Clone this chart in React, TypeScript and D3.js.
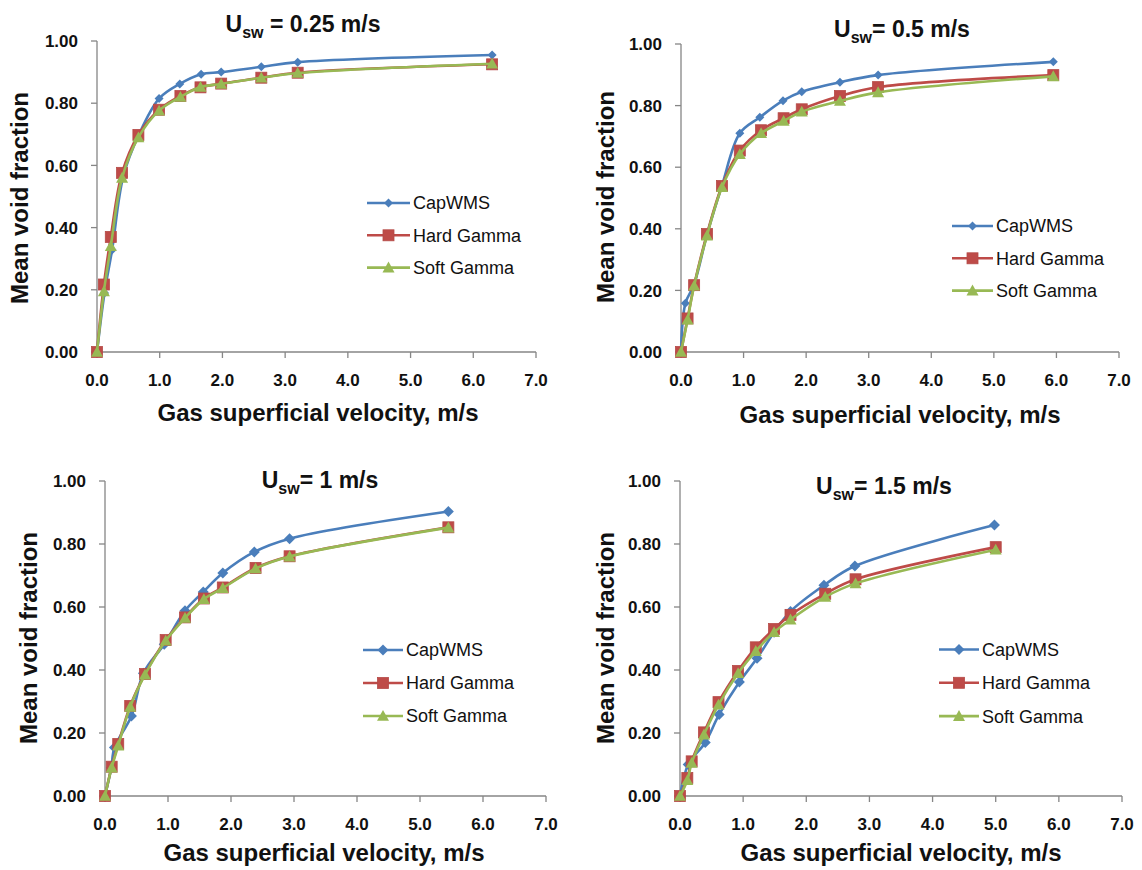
import React from 'react';
import * as d3 from 'd3';

const xTickValues = [0, 1, 2, 3, 4, 5, 6, 7];
const xTickLabels = ['0.0', '1.0', '2.0', '3.0', '4.0', '5.0', '6.0', '7.0'];
const yTickValues = [0, 0.2, 0.4, 0.6, 0.8, 1.0];
const yTickLabels = ['0.00', '0.20', '0.40', '0.60', '0.80', '1.00'];

const seriesNames = ['CapWMS', 'Hard Gamma', 'Soft Gamma'];
const titles = ['= 0.25 m/s', '= 0.5 m/s', '= 1 m/s', '= 1.5 m/s'];

// Usw = 0.25 m/s
const capX1 = [0, 0.12, 0.24, 0.42, 0.67, 0.99, 1.32, 1.66, 1.98, 2.62, 3.2, 6.3];
const cap1 = [0, 0.19, 0.328, 0.565, 0.7, 0.815, 0.862, 0.893, 0.9, 0.917, 0.932, 0.955];
const gX1 = [0, 0.11, 0.22, 0.4, 0.66, 0.99, 1.33, 1.65, 1.98, 2.62, 3.2, 6.3];
const hard1 = [0, 0.217, 0.37, 0.576, 0.698, 0.779, 0.823, 0.851, 0.863, 0.882, 0.898, 0.925];
const soft1 = [0, 0.195, 0.34, 0.56, 0.69, 0.776, 0.82, 0.852, 0.862, 0.882, 0.897, 0.927];

// Usw = 0.5 m/s
const capX2 = [0, 0.07, 0.21, 0.415, 0.655, 0.94, 1.26, 1.63, 1.93, 2.54, 3.15, 5.95];
const cap2 = [0, 0.158, 0.22, 0.38, 0.54, 0.71, 0.762, 0.816, 0.845, 0.876, 0.899, 0.942];
const gX2 = [0, 0.105, 0.21, 0.415, 0.655, 0.94, 1.28, 1.64, 1.93, 2.54, 3.15, 5.95];
const hard2 = [0, 0.109, 0.217, 0.383, 0.539, 0.654, 0.72, 0.759, 0.788, 0.831, 0.86, 0.899];
const soft2 = [0, 0.105, 0.215, 0.378, 0.535, 0.642, 0.71, 0.75, 0.78, 0.815, 0.843, 0.895];

// Usw = 1 m/s
const capX3 = [0, 0.1, 0.15, 0.42, 0.61, 0.94, 1.27, 1.56, 1.87, 2.37, 2.93, 5.45];
const cap3 = [0, 0.09, 0.154, 0.254, 0.39, 0.482, 0.588, 0.648, 0.708, 0.775, 0.817, 0.903];
const gX3 = [0, 0.106, 0.21, 0.4, 0.635, 0.963, 1.27, 1.57, 1.87, 2.39, 2.93, 5.45];
const hard3 = [0, 0.093, 0.165, 0.286, 0.387, 0.495, 0.567, 0.627, 0.662, 0.724, 0.761, 0.853];
const soft3 = [0, 0.09, 0.16, 0.283, 0.385, 0.493, 0.565, 0.625, 0.66, 0.722, 0.76, 0.852];

// Usw = 1.5 m/s
const capX4 = [0, 0.13, 0.4, 0.62, 0.94, 1.22, 1.49, 1.75, 2.28, 2.77, 4.98];
const cap4 = [0, 0.1, 0.17, 0.259, 0.362, 0.437, 0.52, 0.586, 0.669, 0.73, 0.86];
const gX4 = [0, 0.116, 0.185, 0.38, 0.61, 0.92, 1.2, 1.49, 1.75, 2.3, 2.78, 5.0];
const hard4 = [0, 0.057, 0.11, 0.202, 0.298, 0.397, 0.472, 0.53, 0.575, 0.642, 0.688, 0.79];
const soft4 = [0, 0.05, 0.105, 0.195, 0.29, 0.39, 0.46, 0.52, 0.56, 0.632, 0.675, 0.782];

const COLORS = ['#4A7EBB', '#BE4B48', '#98B954'];
const FONT = '"Liberation Sans", Arial, sans-serif';
const TXT = '#111';

const layouts = [
  { x0: 97, x1: 536, y0: 352, y1: 41, title: [303, 32], yl: [28, 198], xl: [318, 421], leg: [367, 410, 203, 32.3], dia: 4.5 },
  { x0: 681, x1: 1119, y0: 352, y1: 44, title: [902, 37], yl: [614, 197], xl: [900, 423], leg: [952, 993, 226, 32.3], dia: 4.5 },
  { x0: 105, x1: 546, y0: 796, y1: 481, title: [320, 488], yl: [37, 638], xl: [324, 861], leg: [363, 403, 650, 33], dia: 5.5 },
  { x0: 680, x1: 1122, y0: 796, y1: 481, title: [884, 494], yl: [614, 638], xl: [901, 861], leg: [939, 979, 649.5, 33.3], dia: 5.5 },
];

const panelData = [
  [[capX1, cap1], [gX1, hard1], [gX1, soft1]],
  [[capX2, cap2], [gX2, hard2], [gX2, soft2]],
  [[capX3, cap3], [gX3, hard3], [gX3, soft3]],
  [[capX4, cap4], [gX4, hard4], [gX4, soft4]],
];

function Marker({ kind, x, y, dia }: { kind: number; x: number; y: number; dia: number }) {
  if (kind === 0) {
    const d = dia;
    return <path d={`M${x},${y - d}L${x + d},${y}L${x},${y + d}L${x - d},${y}Z`} fill={COLORS[0]} />;
  }
  if (kind === 1) {
    const s = 5.5;
    return <rect x={x - s} y={y - s} width={2 * s} height={2 * s} fill={COLORS[1]} stroke="#B54A47" strokeWidth={0.8} />;
  }
  const h = 6;
  return <path d={`M${x},${y - h}L${x + h},${y + h * 0.8}L${x - h},${y + h * 0.8}Z`} fill={COLORS[2]} />;
}

function Panel({ idx }: { idx: number }) {
  const L = layouts[idx];
  const xs = d3.scaleLinear().domain([0, 7]).range([L.x0, L.x1]);
  const ys = d3.scaleLinear().domain([0, 1]).range([L.y0, L.y1]);
  const line = d3
    .line<[number, number]>()
    .x((d) => xs(d[0]))
    .y((d) => ys(d[1]))
    .curve(d3.curveCatmullRom.alpha(0.5));
  const series = panelData[idx].map(([xv, yv]) => xv.map((x, i) => [x, yv[i]] as [number, number]));
  return (
    <g>
      <line x1={L.x0} x2={L.x0} y1={ys(1)} y2={L.y0} stroke="#868686" strokeWidth={1.3} />
      <line x1={L.x0} x2={L.x1} y1={L.y0} y2={L.y0} stroke="#868686" strokeWidth={1.3} />
      {yTickValues.map((v, i) => (
        <g key={'y' + i}>
          <line x1={L.x0 - 6} x2={L.x0} y1={ys(v)} y2={ys(v)} stroke="#868686" strokeWidth={1.3} />
          <text x={L.x0 - 19} y={ys(v)} dy="0.36em" textAnchor="end" fontSize={17} fontWeight="bold" fill={TXT} fontFamily={FONT}>
            {yTickLabels[i]}
          </text>
        </g>
      ))}
      {xTickValues.map((v, i) => (
        <g key={'x' + i}>
          <line x1={xs(v)} x2={xs(v)} y1={L.y0} y2={L.y0 + 6} stroke="#868686" strokeWidth={1.3} />
          <text x={xs(v)} y={L.y0 + 34} textAnchor="middle" fontSize={17} fontWeight="bold" fill={TXT} fontFamily={FONT}>
            {xTickLabels[i]}
          </text>
        </g>
      ))}
      {series.map((pts, si) => (
        <g key={'s' + si}>
          <path d={line(pts) || ''} fill="none" stroke={COLORS[si]} strokeWidth={2.6} />
          {pts.map((p, pi) => (
            <Marker key={pi} kind={si} x={xs(p[0])} y={ys(p[1])} dia={L.dia} />
          ))}
        </g>
      ))}
      <text x={L.title[0]} y={L.title[1]} textAnchor="middle" fontSize={23} fontWeight="bold" fill={TXT} fontFamily={FONT}>
        U<tspan fontSize={16} dy={6}>sw</tspan>
        <tspan dy={-6}>{idx === 0 ? ' ' : ''}{titles[idx]}</tspan>
      </text>
      <text
        transform={`translate(${L.yl[0]},${L.yl[1]}) rotate(-90)`}
        textAnchor="middle"
        fontSize={24}
        fontWeight="bold"
        fill={TXT}
        fontFamily={FONT}
      >
        Mean void fraction
      </text>
      <text x={L.xl[0]} y={L.xl[1]} textAnchor="middle" fontSize={24} fontWeight="bold" fill={TXT} fontFamily={FONT}>
        Gas superficial velocity, m/s
      </text>
      {seriesNames.map((name, si) => {
        const ly = L.leg[2] + si * L.leg[3];
        return (
          <g key={'l' + si}>
            <line x1={L.leg[0]} x2={L.leg[1]} y1={ly} y2={ly} stroke={COLORS[si]} strokeWidth={2.6} />
            <Marker kind={si} x={(L.leg[0] + L.leg[1]) / 2} y={ly} dia={L.dia} />
            <text x={L.leg[1] + 3} y={ly} dy="0.36em" fontSize={18} fill={TXT} fontFamily={FONT}>
              {name}
            </text>
          </g>
        );
      })}
    </g>
  );
}

export default function App() {
  return (
    <svg
      width={1142}
      height={870}
      style={{ position: 'absolute', left: 0, top: 0, background: '#fff' }}
      xmlns="http://www.w3.org/2000/svg"
    >
      <rect x={0} y={0} width={1142} height={870} fill="#fff" />
      {[0, 1, 2, 3].map((i) => (
        <Panel key={i} idx={i} />
      ))}
    </svg>
  );
}
